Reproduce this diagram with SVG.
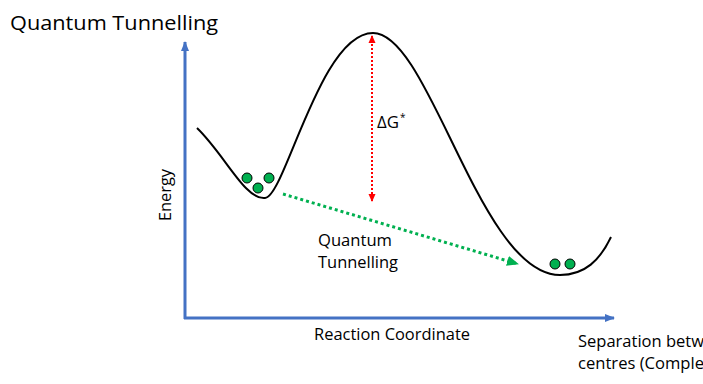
<svg xmlns="http://www.w3.org/2000/svg" width="703" height="384" viewBox="0 0 703 384">
<style>
text{font-family:"Open Sans","Noto Sans",sans-serif;fill:#000}
.lbl{font-size:16px}
.ball{fill:#00b050;stroke:#000;stroke-width:1}
</style>
<defs>
<marker id="blueHead" markerWidth="10" markerHeight="8" refX="9" refY="4" orient="auto" markerUnits="userSpaceOnUse"><path d="M0,0 L10,4 L0,8 Z" fill="#4472c4"/></marker>
<marker id="redHead" markerWidth="8" markerHeight="8" refX="7" refY="4" orient="auto-start-reverse" markerUnits="userSpaceOnUse"><path d="M0,0.5 L8,4 L0,7.5 Z" fill="#ff0000"/></marker>
<marker id="greenHead" markerWidth="12" markerHeight="10" refX="11" refY="5" orient="auto" markerUnits="userSpaceOnUse"><path d="M0,0 L12,5 L0,10 Z" fill="#00b050"/></marker>
</defs>
<rect width="703" height="384" fill="#fff"/>
<g id="title"><text x="10" y="30" font-size="20" textLength="208" lengthAdjust="spacingAndGlyphs">Quantum Tunnelling</text></g>
<g id="connectors">
<path d="M185,319 L185,42" stroke="#4472c4" stroke-width="3" marker-end="url(#blueHead)" fill="none"/>
<path d="M184,318 L614,318" stroke="#4472c4" stroke-width="3" marker-end="url(#blueHead)" fill="none"/>
<path id="curve" d="M197,128 C225,155 245,200 265,198 C285,197 320,33 373,33 C430,33 480,275 560,275 C585,275 600,260 611,237" fill="none" stroke="#000" stroke-width="2"/>
<line x1="372" y1="36" x2="372" y2="201" stroke="#ff0000" stroke-width="2" stroke-dasharray="2 2" marker-start="url(#redHead)" marker-end="url(#redHead)"/>
<line x1="283" y1="194" x2="518" y2="264" stroke="#00b050" stroke-width="3" stroke-dasharray="3 3" marker-end="url(#greenHead)"/>
</g>
<g id="balls-left">
<circle class="ball" cx="247" cy="178" r="5"/>
<circle class="ball" cx="258" cy="188" r="5"/>
<circle class="ball" cx="269" cy="178" r="5"/>
</g>
<g id="balls-right">
<circle class="ball" cx="555" cy="264" r="5"/>
<circle class="ball" cx="570" cy="264" r="5"/>
</g>
<g id="labels">
<text x="377" y="128" font-size="17" textLength="22" lengthAdjust="spacingAndGlyphs">ΔG</text><text x="400" y="121" font-size="10">*</text>
<text class="lbl" x="318" y="246" textLength="74" lengthAdjust="spacingAndGlyphs">Quantum</text>
<text class="lbl" x="318" y="268" textLength="80" lengthAdjust="spacingAndGlyphs">Tunnelling</text>
<text class="lbl" x="314" y="340" textLength="156" lengthAdjust="spacingAndGlyphs">Reaction Coordinate</text>
<text class="lbl" x="578" y="347" textLength="126" lengthAdjust="spacingAndGlyphs">Separation betw</text>
<text class="lbl" x="578" y="369" textLength="126" lengthAdjust="spacingAndGlyphs">centres (Comple</text>
<text class="lbl" transform="translate(171,195) rotate(-90)" text-anchor="middle" textLength="52" lengthAdjust="spacingAndGlyphs">Energy</text>
</g>
</svg>
